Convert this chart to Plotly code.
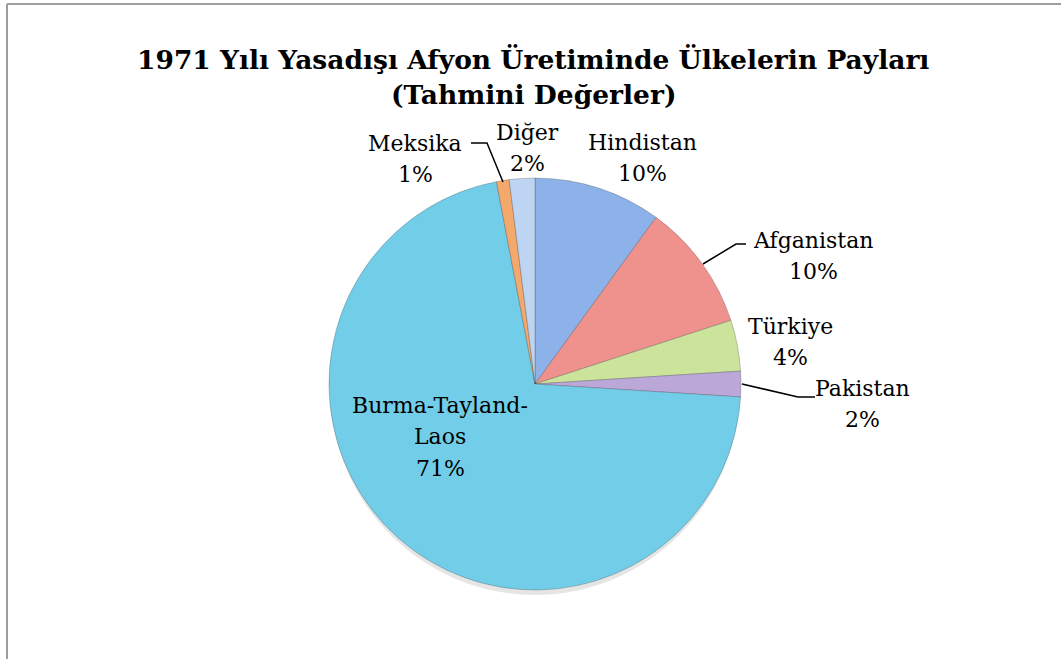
import plotly.graph_objects as go

W, H = 1061, 659

labels = ["Hindistan", "Afganistan", "Türkiye", "Pakistan", "Burma-Tayland-Laos", "Meksika", "Diğer"]
values = [10, 10, 4, 2, 71, 1, 2]
colors = ["#8cb2e9", "#ef918c", "#cce39c", "#bba8d9", "#72cde8", "#f3a86c", "#bdd4f2"]
label_lines = [["Hindistan"], ["Afganistan"], ["Türkiye"], ["Pakistan"], ["Burma-Tayland-", "Laos"], ["Meksika"], ["Diğer"]]
# label first-line centre positions (pixels) and line spacing
label_pos = [(642, 142), (813, 240), (790, 326), (862, 388), (440, 405), (415, 143), (527, 132)]
LINE_GAP = 31.5

title_lines = ["1971 Yılı Yasadışı Afyon Üretiminde Ülkelerin Payları", "(Tahmini Değerler)"]


def px(x):
    return x / W


def py(y):
    return 1 - y / H


cx, cy, r = 535, 384, 206

fig = go.Figure(go.Pie(
    labels=labels,
    values=values,
    sort=False,
    direction="clockwise",
    rotation=0,
    textinfo="none",
    hoverinfo="label+percent",
    marker=dict(colors=colors, line=dict(color="rgba(60,60,60,0.35)", width=0.8)),
    domain=dict(x=[px(cx - r), px(cx + r)], y=[py(cy + r), py(cy - r)]),
    showlegend=False,
))

total = sum(values)
annotations = []
label_font = dict(family="DejaVu Serif", size=22, color="#000000")
for lines, v, (x, y) in zip(label_lines, values, label_pos):
    pct = round(v / total * 100)
    for i, t in enumerate(lines + [f"{pct}%"]):
        annotations.append(dict(
            x=px(x), y=py(y + i * LINE_GAP), xref="paper", yref="paper", text=t, showarrow=False,
            font=label_font, align="center", xanchor="center", yanchor="middle",
        ))

for i, t in enumerate(title_lines):
    annotations.append(dict(
        x=px(533), y=py(59 + i * 35), xref="paper", yref="paper",
        text=f"<b>{t}</b>", showarrow=False,
        font=dict(family="DejaVu Serif", size=26.5, color="#000000"),
        align="center", xanchor="center", yanchor="middle",
    ))

shapes = [
    # soft shadow under the pie
    dict(type="circle", xref="paper", yref="paper", layer="below",
         x0=px(cx - r + 1), x1=px(cx + r - 1), y0=py(cy + r + 5), y1=py(cy - r + 3),
         fillcolor="rgba(0,0,0,0.10)", line=dict(width=0)),
    # chart frame
    dict(type="line", xref="paper", yref="paper", x0=px(7), x1=1, y0=py(4), y1=py(4),
         line=dict(color="#9e9e9e", width=2)),
    dict(type="line", xref="paper", yref="paper", x0=px(7), x1=px(7), y0=py(4), y1=0,
         line=dict(color="#9e9e9e", width=2)),
]
leaders = [
    [(471, 143), (487, 143), (503, 182)],
    [(703, 264), (736, 244), (746, 244)],
    [(742, 384), (798, 397), (815, 397)],
]
for pts in leaders:
    path = "M " + " L ".join(f"{px(x)},{py(y)}" for x, y in pts)
    shapes.append(dict(type="path", xref="paper", yref="paper", path=path,
                       line=dict(color="#000000", width=1.5)))

fig.update_layout(
    width=W, height=H,
    margin=dict(l=0, r=0, t=0, b=0),
    paper_bgcolor="#ffffff",
    plot_bgcolor="#ffffff",
    annotations=annotations,
    shapes=shapes,
)

fig.write_html("out.html", config={"displayModeBar": False},
               post_script="document.body.style.margin='0';")
